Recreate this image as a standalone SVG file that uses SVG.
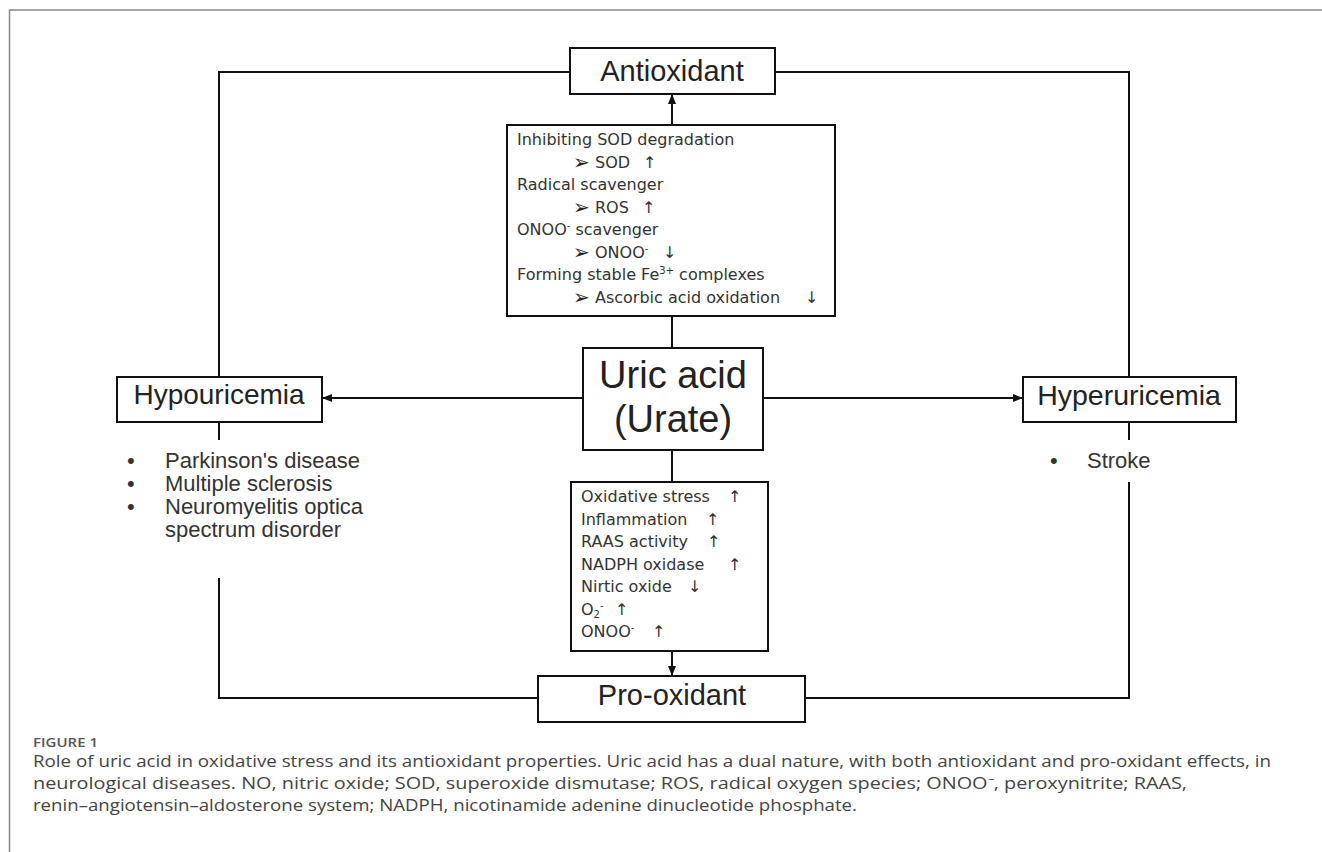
<svg xmlns="http://www.w3.org/2000/svg" width="1322" height="852" viewBox="0 0 1322 852">
<defs>
<marker id="ah" markerWidth="10" markerHeight="8" refX="9" refY="4" orient="auto" markerUnits="userSpaceOnUse">
<path d="M0,0 L10,4 L0,8 Z" fill="#111"/>
</marker>
<style>
.box{fill:#fff;stroke:#111;stroke-width:2}
.ln{fill:none;stroke:#111;stroke-width:2}
.title{font-family:"Liberation Sans",Arial,sans-serif;fill:#222;text-anchor:middle}
.t16{font-family:"DejaVu Sans",sans-serif;font-size:16px;fill:#333}
.bul{font-family:"DejaVu Sans",sans-serif;font-size:20px;fill:#222}
.t22{font-family:"Liberation Sans",Arial,sans-serif;font-size:22px;fill:#333}
.cap{font-family:"Open Sans","Liberation Sans",sans-serif;font-size:16px;fill:#444}
</style>
</defs>
<rect width="1322" height="852" fill="#fff"/>
<path d="M9.5,852 V10 H1322" fill="none" stroke="#888" stroke-width="1.5"/>

<g id="connectors">
<path class="ln" d="M570,72 H219 V377"/>
<path class="ln" d="M775,72 H1129 V377"/>
<path class="ln" d="M219,422 V440"/>
<path class="ln" d="M219,578 V698 H538"/>
<path class="ln" d="M1129,422 V440"/>
<path class="ln" d="M1129,482 V698 H805"/>
<path class="ln" d="M672,125 V95" marker-end="url(#ah)"/>
<path class="ln" d="M672,316 V348"/>
<path class="ln" d="M672,450 V482"/>
<path class="ln" d="M672,651 V675" marker-end="url(#ah)"/>
<path class="ln" d="M583,398 H323" marker-end="url(#ah)"/>
<path class="ln" d="M763,398 H1022" marker-end="url(#ah)"/>
</g>

<g id="antioxidant">
<rect class="box" x="570" y="48" width="205" height="46"/>
<text class="title" x="672" y="81" font-size="29">Antioxidant</text>
</g>

<g id="antioxidant-mechanisms">
<rect class="box" x="507" y="125" width="328" height="191"/>
<text class="t16" x="517" y="145">Inhibiting SOD degradation</text>
<text class="bul" x="573" y="168.5">➢</text><text class="t16" x="595" y="167.5">SOD</text><text class="t16" x="643" y="167.5">↑</text>
<text class="t16" x="517" y="190">Radical scavenger</text>
<text class="bul" x="573" y="213.5">➢</text><text class="t16" x="595" y="212.5">ROS</text><text class="t16" x="642" y="212.5">↑</text>
<text class="t16" x="517" y="235">ONOO<tspan font-size="10" dy="-6">-</tspan><tspan dy="6"> scavenger</tspan></text>
<text class="bul" x="573" y="258.5">➢</text><text class="t16" x="595" y="257.5">ONOO<tspan font-size="10" dy="-6">-</tspan></text><text class="t16" x="663" y="257.5">↓</text>
<text class="t16" x="517" y="280">Forming stable Fe<tspan font-size="10" dy="-6">3+</tspan><tspan dy="6"> complexes</tspan></text>
<text class="bul" x="573" y="303.5">➢</text><text class="t16" x="595" y="302.5">Ascorbic acid oxidation</text><text class="t16" x="805" y="302.5">↓</text>
</g>

<g id="uric-acid">
<rect class="box" x="583" y="348" width="180" height="102"/>
<text class="title" x="673" y="388" font-size="38">Uric acid</text>
<text class="title" x="673" y="432" font-size="38">(Urate)</text>
</g>

<g id="hypouricemia">
<rect class="box" x="117" y="377" width="205" height="45"/>
<text class="title" x="219" y="404" font-size="28">Hypouricemia</text>
</g>

<g id="hypouricemia-diseases">
<text class="t22" x="127" y="468">•</text><text class="t22" x="165" y="468">Parkinson's disease</text>
<text class="t22" x="127" y="491">•</text><text class="t22" x="165" y="491">Multiple sclerosis</text>
<text class="t22" x="127" y="514">•</text><text class="t22" x="165" y="514">Neuromyelitis optica</text>
<text class="t22" x="165" y="537">spectrum disorder</text>
</g>

<g id="hyperuricemia">
<rect class="box" x="1023" y="377" width="213" height="45"/>
<text class="title" x="1129" y="405" font-size="28.5">Hyperuricemia</text>
</g>

<g id="hyperuricemia-diseases">
<text class="t22" x="1050" y="468">•</text><text class="t22" x="1087" y="468">Stroke</text>
</g>

<g id="prooxidant-mechanisms">
<rect class="box" x="571" y="482" width="197" height="169"/>
<text class="t16" x="581" y="502">Oxidative stress</text><text class="t16" x="728" y="502">↑</text>
<text class="t16" x="581" y="524.5">Inflammation</text><text class="t16" x="706" y="524.5">↑</text>
<text class="t16" x="581" y="547">RAAS activity</text><text class="t16" x="707" y="547">↑</text>
<text class="t16" x="581" y="569.5">NADPH oxidase</text><text class="t16" x="728" y="569.5">↑</text>
<text class="t16" x="581" y="592">Nirtic oxide</text><text class="t16" x="688" y="592">↓</text>
<text class="t16" x="581" y="614.5">O<tspan font-size="10" dy="3">2</tspan><tspan font-size="10" dy="-9">-</tspan></text><text class="t16" x="615" y="614.5">↑</text>
<text class="t16" x="581" y="637">ONOO<tspan font-size="10" dy="-6">-</tspan></text><text class="t16" x="652" y="637">↑</text>
</g>

<g id="prooxidant">
<rect class="box" x="538" y="676" width="267" height="46"/>
<text class="title" x="672" y="705" font-size="29">Pro-oxidant</text>
</g>

<g id="caption">
<text x="33" y="747" font-family="'Open Sans','Liberation Sans',sans-serif" font-size="13" font-weight="600" fill="#555" textLength="65" lengthAdjust="spacingAndGlyphs">FIGURE 1</text>
<text class="cap" x="33" y="767" textLength="1238" lengthAdjust="spacingAndGlyphs">Role of uric acid in oxidative stress and its antioxidant properties. Uric acid has a dual nature, with both antioxidant and pro-oxidant effects, in</text>
<text class="cap" x="33" y="789" textLength="1154" lengthAdjust="spacingAndGlyphs">neurological diseases. NO, nitric oxide; SOD, superoxide dismutase; ROS, radical oxygen species; ONOO⁻, peroxynitrite; RAAS,</text>
<text class="cap" x="33" y="811" textLength="824" lengthAdjust="spacingAndGlyphs">renin–angiotensin–aldosterone system; NADPH, nicotinamide adenine dinucleotide phosphate.</text>
</g>
</svg>
